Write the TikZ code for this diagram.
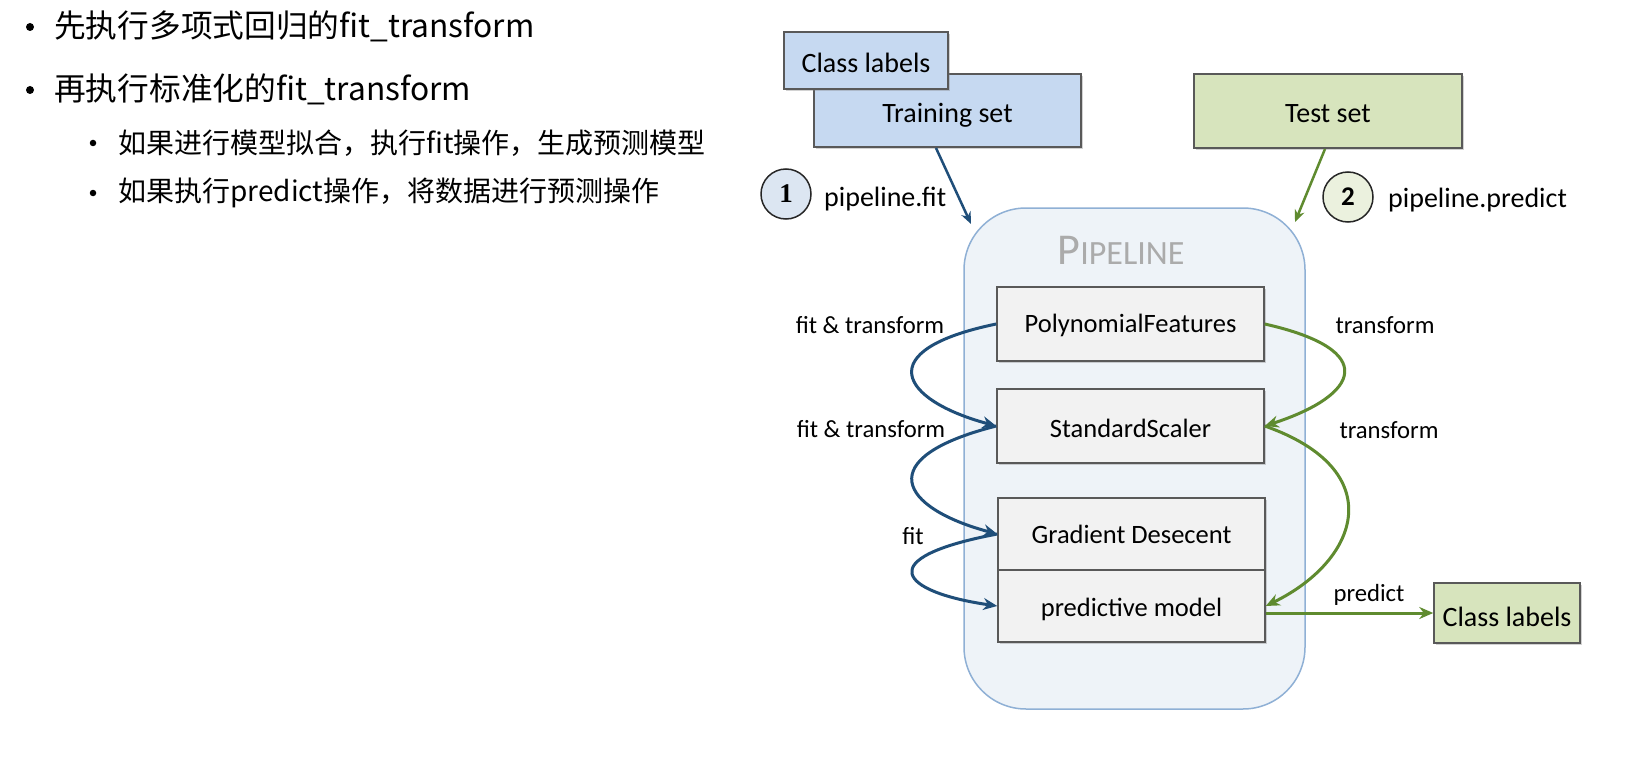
\documentclass[tikz,border=0pt]{standalone}
\usepackage{fontspec}
\setmainfont{Carlito}
\newfontfamily\cjk{Noto Sans CJK SC}
\newfontfamily\serifnum{Liberation Serif}
\usetikzlibrary{arrows.meta,shadows,calc}
\definecolor{bluearr}{HTML}{1F4E79}
\definecolor{greenarr}{HTML}{5F8B2F}
\definecolor{bluefill}{HTML}{C6D9F1}
\definecolor{greenfill}{HTML}{D7E4BD}
\definecolor{circblue}{HTML}{DCE6F2}
\definecolor{circgreen}{HTML}{EBF1DE}
\definecolor{pipefill}{HTML}{EEF3F8}
\definecolor{pipeline}{HTML}{8FB0D5}
\definecolor{boxfill}{HTML}{F2F2F2}
\definecolor{boxedge}{HTML}{595959}
\newcommand{\lowtext}[2]{\raisebox{-#1pt}[0pt][0pt]{#2}}
\tikzset{
  mainbul/.style={anchor=west,inner sep=0pt,font=\cjk\fontsize{31.7}{31.7}\selectfont},
  subbul/.style={anchor=west,inner sep=0pt,font=\cjk\fontsize{28}{28}\selectfont},
  dotm/.style={circle,fill=black,inner sep=0pt,minimum size=8pt},
  dots/.style={circle,fill=black,inner sep=0pt,minimum size=6.5pt},
  databox/.style={draw=boxedge,line width=1.5pt,minimum width=267pt,minimum height=73pt,
    font=\fontsize{28}{28}\selectfont,drop shadow={shadow xshift=2pt,shadow yshift=-2pt,opacity=0.35}},
  stagebox/.style={draw=boxedge,line width=1.5pt,fill=boxfill,minimum width=267pt,
    font=\fontsize{26.5}{26.5}\selectfont,drop shadow={shadow xshift=2pt,shadow yshift=-2pt,opacity=0.35}},
  stepcirc/.style={circle,draw=black!85,line width=1.5pt,minimum size=50pt,inner sep=0pt,
    font=\bfseries\fontsize{27}{27}\selectfont},
  lbl/.style={inner sep=0pt,font=\fontsize{24.7}{24.7}\selectfont},
  barrow/.style={draw=bluearr,line width=3pt,-{Stealth[length=14pt,width=12pt]}},
  garrow/.style={draw=greenarr,line width=3pt,-{Stealth[length=14pt,width=12pt]}}
}
\begin{document}
\begin{tikzpicture}[x=1pt,y=-1pt]
\useasboundingbox (0,0) rectangle (1639,757);
\fill[white] (0,0) rectangle (1639,757);

% left text
\node[dotm] (b1) at (30,27) {};
\node[mainbul] (t1) at (54,26) {先执行多项式回归的fit\_transform};
\node[dotm] (b2) at (30,90) {};
\node[mainbul] (t2) at (54,89) {再执行标准化的fit\_transform};
\node[dots] (b3) at (93,143) {};
\node[subbul] (t3) at (118,143) {如果进行模型拟合，执行fit操作，生成预测模型};
\node[dots] (b4) at (93,193) {};
\node[subbul] (t4) at (118,193) {如果执行predict操作，将数据进行预测操作};

% input boxes
\node[databox,fill=bluefill] (train) at (947.5,110.5) {\lowtext{12.5}{Training set}};
\node[databox,fill=bluefill,minimum width=164pt,minimum height=57pt] (cls1) at (866,60.5) {\lowtext{12.5}{Class labels}};
\node[databox,fill=greenfill,minimum width=268pt,minimum height=74pt] (test) at (1328,111) {\lowtext{12}{Test set}};

% pipeline
\node[draw=pipeline,line width=1.5pt,fill=pipefill,rounded corners=62pt,
  minimum width=341pt,minimum height=501pt] (pipe) at (1134.5,458.5) {};
\node[text=black!33,inner sep=0pt] (pipetitle) at (1121,250)
  {{\fontsize{44}{44}\selectfont P}{\fontsize{34}{34}\selectfont IPELINE}};

\node[stagebox,minimum height=74pt] (pf) at (1130.5,324) {\lowtext{8.7}{PolynomialFeatures}};
\node[stagebox,minimum height=74pt] (ss) at (1130.5,426) {\lowtext{11}{StandardScaler}};
\node[stagebox,minimum height=72pt] (gd) at (1131.5,534) {\lowtext{9.7}{Gradient Desecent}};
\node[stagebox,minimum height=72pt] (pm) at (1131.5,606) {\lowtext{10.5}{predictive model}};

\node[databox,fill=greenfill,minimum width=146pt,minimum height=60pt] (cls2) at (1507,613) {\lowtext{13}{Class labels}};

% step circles
\node[stepcirc,fill=circblue] (c1) at (786,194) {\serifnum\bfseries 1};
\node[lbl,anchor=west,font=\fontsize{28}{28}\selectfont] (pfit) at (824,199) {pipeline.fit};
\node[stepcirc,fill=circgreen] (c2) at (1348,197) {2};
\node[lbl,anchor=west,font=\fontsize{28}{28}\selectfont] (ppred) at (1388,200) {pipeline.predict};

% labels
\node[lbl] (l1) at (870,325) {fit \& transform};
\node[lbl] (l2) at (871,429) {fit \& transform};
\node[lbl] (l3) at (913,536) {fit};
\node[lbl] (r1) at (1385,325) {transform};
\node[lbl] (r2) at (1389,430) {transform};
\node[lbl] (r3) at (1369,595) {predict};

% entry arrows
\coordinate (trs) at (936,148);
\coordinate (pin1) at (971,224);
\coordinate (tss) at (1325,149);
\coordinate (pin2) at (1295,222);
\draw[draw=bluearr,line width=2.5pt,-{Stealth[length=12pt,width=10pt]}] (trs) -- (pin1);
\draw[draw=greenarr,line width=2.5pt,-{Stealth[length=12pt,width=10pt]}] (tss) -- (pin2);

% fit path (blue)
\draw[barrow] (pf.west) .. controls (870,350) and (900,400) .. (ss.west);
\draw[barrow] (ss.west) .. controls (870,458) and (900,508) .. (gd.west);
\draw[barrow] (gd.west) .. controls (870,558) and (900,592) .. (pm.west);

% predict path (green)
\draw[garrow] (pf.east) .. controls (1380,350) and (1360,395) .. (ss.east);
\draw[garrow] (ss.east) .. controls (1390,470) and (1360,560) .. (pm.east);
\draw[garrow] (pm.east |- cls2.west) -- (cls2.west);
\end{tikzpicture}
\end{document}
